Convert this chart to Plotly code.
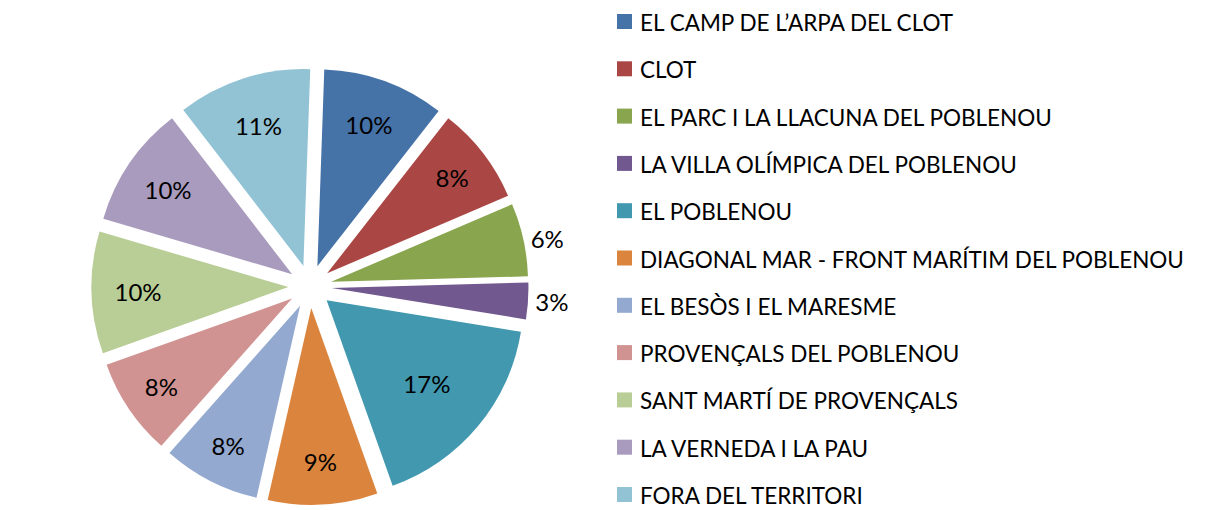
import plotly.graph_objects as go

labels = [
    "EL CAMP DE L\u2019ARPA DEL CLOT",
    "CLOT",
    "EL PARC I LA LLACUNA DEL POBLENOU",
    "LA VILLA OL\u00cdMPICA DEL POBLENOU",
    "EL POBLENOU",
    "DIAGONAL MAR - FRONT MAR\u00cdTIM DEL POBLENOU",
    "EL BES\u00d2S I EL MARESME",
    "PROVEN\u00c7ALS DEL POBLENOU",
    "SANT MART\u00cd DE PROVEN\u00c7ALS",
    "LA VERNEDA I LA PAU",
    "FORA DEL TERRITORI",
]
values = [10, 8, 6, 3, 17, 9, 8, 8, 10, 10, 11]
colors = ["#4572A7", "#AA4643", "#89A54E", "#71588F", "#4198AF", "#DB843D",
          "#93A9CF", "#D19392", "#B9CD96", "#A99BBD", "#92C3D5"]
text_positions = ["inside", "inside", "outside", "outside", "inside", "inside",
                  "inside", "inside", "inside", "inside", "inside"]

# page body has an 8px margin: figure sized to the visible area
OFF = 8
W, H = 1206 - OFF, 510 - OFF
FONT = "Lato"


def px_x(x):
    return (x - OFF) / W


def px_y(y):
    return 1 - (y - OFF) / H


fig = go.Figure()
fig.add_trace(go.Pie(
    labels=labels,
    values=values,
    sort=False,
    direction="clockwise",
    rotation=2,
    pull=[0.11] * len(values),
    marker=dict(colors=colors, line=dict(width=0)),
    textinfo="percent",
    texttemplate="%{percent:.0%}",
    textposition=text_positions,
    insidetextorientation="horizontal",
    textfont=dict(family=FONT, size=24, color="#000000"),
    domain=dict(x=[px_x(10), px_x(610)], y=[px_y(505), px_y(68)]),
    showlegend=False,
    hoverinfo="label+percent",
))

# Legend drawn as coloured squares + text, evenly spaced like the original
shapes = []
annotations = []
sq_x0, sq_size = 617, 15
text_x = 638
y_first, step = 21.5, 47.3
for i, (lab, col) in enumerate(zip(labels, colors)):
    yc = y_first + step * i
    shapes.append(dict(
        type="rect", xref="paper", yref="paper",
        x0=px_x(sq_x0), x1=px_x(sq_x0 + sq_size),
        y0=px_y(yc + sq_size / 2), y1=px_y(yc - sq_size / 2),
        fillcolor=col, line=dict(width=0),
    ))
    annotations.append(dict(
        text=lab, xref="paper", yref="paper",
        x=px_x(text_x), y=px_y(yc + 1),
        xanchor="left", yanchor="middle", showarrow=False,
        font=dict(family=FONT, size=22.5, color="#000000"),
    ))

fig.update_layout(
    width=W, height=H,
    margin=dict(l=0, r=0, t=0, b=0, pad=0, autoexpand=False),
    paper_bgcolor="white",
    plot_bgcolor="white",
    shapes=shapes,
    annotations=annotations,
    font=dict(family=FONT),
)

fig.write_html("out.html")
